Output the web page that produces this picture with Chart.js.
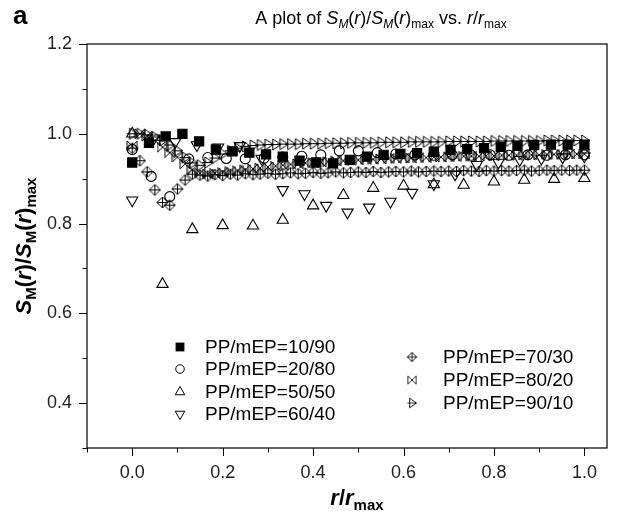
<!DOCTYPE html>
<html><head><meta charset="utf-8">
<script src="https://cdn.jsdelivr.net/npm/chart.js@4/dist/chart.umd.min.js"></script>
<style>html,body{margin:0;padding:0;background:#fff}#wrap{width:637px;height:520px;position:relative}</style>
</head><body><div id="wrap"><canvas id="c" width="637" height="520"></canvas></div>
<script>
// ---- data ----
const seriesLabels = ["PP/mEP=10/90","PP/mEP=20/80","PP/mEP=50/50","PP/mEP=60/40","PP/mEP=70/30","PP/mEP=80/20","PP/mEP=90/10"];
const x27 = [0,0.037,0.074,0.111,0.148,0.185,0.222,0.259,0.296,0.333,0.37,0.407,0.444,0.481,0.519,0.556,0.593,0.63,0.667,0.704,0.741,0.778,0.815,0.852,0.889,0.926,0.963,1.0];
const x24 = [0,0.042,0.083,0.125,0.167,0.208,0.25,0.292,0.333,0.375,0.417,0.458,0.5,0.542,0.583,0.625,0.667,0.708,0.75,0.792,0.833,0.875,0.917,0.958,1.0];
const x15 = [0,0.067,0.133,0.2,0.267,0.333,0.4,0.467,0.533,0.6,0.667,0.733,0.8,0.867,0.933,1.0];
const x21 = [0,0.048,0.095,0.143,0.19,0.238,0.286,0.333,0.381,0.429,0.476,0.524,0.571,0.619,0.667,0.714,0.762,0.81,0.857,0.905,0.952,1.0];
const xFine = [0,0.017,0.033,0.05,0.067,0.083,0.1,0.117,0.133,0.15,0.167,0.183,0.2,0.217,0.233,0.25,0.267,0.283,0.3,0.317,0.333,0.35,0.367,0.383,0.4,0.417,0.433,0.45,0.467,0.483,0.5,0.517,0.533,0.55,0.567,0.583,0.6,0.617,0.633,0.65,0.667,0.683,0.7,0.717,0.733,0.75,0.767,0.783,0.8,0.817,0.833,0.85,0.867,0.883,0.9,0.917,0.933,0.95,0.967,0.983,1.0];

const y1090 = [0.936,0.98,0.994,1.0,0.983,0.965,0.961,0.958,0.954,0.949,0.94,0.936,0.934,0.942,0.949,0.953,0.955,0.957,0.96,0.964,0.966,0.968,0.971,0.973,0.975,0.976,0.976,0.976];
const y2080 = [0.965,0.905,0.86,0.944,0.947,0.945,0.944,0.946,0.948,0.95,0.953,0.962,0.962,0.958,0.955,0.953,0.952,0.953,0.952,0.953,0.952,0.953,0.952,0.953,0.953];
const y5050 = [1.0,0.665,0.787,0.796,0.795,0.808,0.84,0.863,0.879,0.884,0.887,0.886,0.893,0.897,0.899,0.901];
const y6040 = [0.852,0.99,0.982,0.975,0.97,0.973,0.945,0.875,0.866,0.84,0.825,0.836,0.849,0.869,0.888,0.91,0.931,0.936,0.942,0.945,0.948,0.95];
const y7030 = [0.968,0.94,0.915,0.875,0.847,0.841,0.877,0.897,0.91,0.908,0.906,0.909,0.907,0.91,0.908,0.911,0.909,0.91,0.912,0.91,0.911,0.913,0.911,0.912,0.914,0.912,0.913,0.915,0.913,0.914,0.915,0.914,0.916,0.914,0.915,0.916,0.915,0.917,0.915,0.916,0.917,0.916,0.917,0.916,0.918,0.917,0.916,0.918,0.917,0.918,0.917,0.918,0.919,0.917,0.918,0.919,0.918,0.919,0.918,0.919,0.919];
const y8020 = [0.973,1.0,0.995,0.985,0.97,0.958,0.948,0.933,0.92,0.912,0.91,0.912,0.914,0.916,0.918,0.92,0.922,0.924,0.926,0.928,0.93,0.932,0.933,0.935,0.936,0.937,0.938,0.94,0.94,0.941,0.942,0.943,0.943,0.944,0.945,0.945,0.946,0.946,0.947,0.947,0.948,0.948,0.949,0.949,0.95,0.95,0.95,0.951,0.951,0.952,0.952,0.952,0.953,0.953,0.953,0.954,0.954,0.954,0.955,0.955,0.955];
const y9010 = [1.0,1.0,0.998,0.993,0.985,0.975,0.962,0.947,0.935,0.93,0.936,0.946,0.955,0.962,0.968,0.972,0.974,0.975,0.976,0.976,0.977,0.977,0.977,0.978,0.978,0.978,0.979,0.979,0.979,0.98,0.98,0.98,0.98,0.981,0.981,0.981,0.981,0.982,0.982,0.982,0.982,0.982,0.983,0.983,0.983,0.983,0.983,0.983,0.984,0.984,0.984,0.984,0.984,0.984,0.984,0.985,0.985,0.985,0.985,0.985,0.985];
const xTickVals = [-0.1,0.0,0.1,0.2,0.3,0.4,0.5,0.6,0.7,0.8,0.9,1.0];
const yTickVals = [0.3,0.4,0.5,0.6,0.7,0.8,0.9,1.0,1.1,1.2];
const xTicksMajor = [0.0,0.2,0.4,0.6,0.8,1.0];
const yTicksMajor = [0.4,0.6,0.8,1.0,1.2];

// ---- marker images ----
function mk(size, draw){const c=document.createElement('canvas');c.width=size;c.height=size;const g=c.getContext('2d');g.strokeStyle='#000';g.lineWidth=1;draw(g,size/2,size/2-1);return c;}
const mDiamondPlus = mk(13,(g,c,r)=>{g.beginPath();g.moveTo(c,c-r);g.lineTo(c+r,c);g.lineTo(c,c+r);g.lineTo(c-r,c);g.closePath();g.moveTo(c,c-r);g.lineTo(c,c+r);g.moveTo(c-r,c);g.lineTo(c+r,c);g.stroke();});
const mBowtie = mk(12,(g,c,r)=>{g.beginPath();g.moveTo(c-r,c-r);g.lineTo(c+r,c+r);g.moveTo(c-r,c+r);g.lineTo(c+r,c-r);g.moveTo(c-r,c-r);g.lineTo(c-r,c+r);g.moveTo(c+r,c-r);g.lineTo(c+r,c+r);g.stroke();});
const mRightTri = mk(13,(g,c,r)=>{g.beginPath();g.moveTo(c-r*0.5,c-r);g.lineTo(c+r,c);g.lineTo(c-r*0.5,c+r);g.closePath();g.moveTo(c-r,c);g.lineTo(c+r,c);g.stroke();});

const styles = [
 {ps:'rect',r:6.5,fill:'#000',rot:0},
 {ps:'circle',r:5,fill:'rgba(0,0,0,0)',rot:0},
 {ps:'triangle',r:6.5,fill:'rgba(0,0,0,0)',rot:0},
 {ps:'triangle',r:6.5,fill:'rgba(0,0,0,0)',rot:180},
 {ps:mDiamondPlus,r:6,fill:'rgba(0,0,0,0)',rot:0},
 {ps:mBowtie,r:6,fill:'rgba(0,0,0,0)',rot:0},
 {ps:mRightTri,r:6,fill:'rgba(0,0,0,0)',rot:0}
];
const xs=[x27,x24,x15,x21,xFine,xFine,xFine];
const ys=[y1090,y2080,y5050,y6040,y7030,y8020,y9010];

const datasets = seriesLabels.map((lab,i)=>({
  label: lab,
  data: xs[i].map((x,k)=>({x:x,y:ys[i][k]})),
  showLine:false,
  pointStyle: styles[i].ps,
  pointRadius: styles[i].r,
  pointRotation: styles[i].rot,
  pointBorderWidth: 1.1,
  pointBorderColor: '#000',
  pointBackgroundColor: styles[i].fill,
  pointHoverRadius: styles[i].r
}));

const FONT = '"Liberation Sans", Arial, sans-serif';

function drawRich(ctx, runs, x, y, align){
  let w=0;
  runs.forEach(r=>{ctx.font=`${r[1]} ${r[2]} ${r[3]}px ${FONT}`;w+=ctx.measureText(r[0]).width;});
  let cx = align==='center'? x-w/2 : x;
  ctx.textBaseline='alphabetic'; ctx.textAlign='left';
  runs.forEach(r=>{ctx.font=`${r[1]} ${r[2]} ${r[3]}px ${FONT}`;ctx.fillText(r[0],cx,y+(r[4]||0));cx+=ctx.measureText(r[0]).width;});
}

function drawMarker(ctx, st, x, y, scale){
  ctx.save();
  ctx.strokeStyle='#000'; ctx.lineWidth=1; ctx.fillStyle=st.fill;
  const r=st.r*scale;
  if (typeof st.ps !== 'string'){
    const w=st.ps.width*scale;
    ctx.drawImage(st.ps, x-w/2, y-w/2, w, w);
  } else if (st.ps==='rect'){
    const s=r*Math.SQRT1_2; ctx.fillRect(x-s,y-s,2*s,2*s); ctx.strokeRect(x-s,y-s,2*s,2*s);
  } else if (st.ps==='circle'){
    ctx.beginPath(); ctx.arc(x,y,r,0,Math.PI*2); ctx.stroke();
  } else if (st.ps==='triangle'){
    const sgn = st.rot===180?-1:1;
    ctx.beginPath();
    ctx.moveTo(x, y - sgn*r);
    ctx.lineTo(x + r*Math.sin(Math.PI*2/3), y + sgn*r*0.5);
    ctx.lineTo(x - r*Math.sin(Math.PI*2/3), y + sgn*r*0.5);
    ctx.closePath(); ctx.stroke();
  }
  ctx.restore();
}

const decor = {
  id:'decor',
  afterDraw(chart){
    const ctx=chart.ctx, a=chart.chartArea, xs=chart.scales.x, ys=chart.scales.y;
    ctx.save();
    ctx.strokeStyle='#000'; ctx.lineWidth=1.2;
    ctx.strokeRect(a.left, a.top, a.right-a.left, a.bottom-a.top);
    ctx.lineWidth=1;
    ys.ticks.forEach(t=>{
      const v=t.value; const major = yTicksMajor.some(m=>Math.abs(m-v)<1e-6);
      const py=Math.round(ys.getPixelForValue(v))+0.5;
      ctx.beginPath(); ctx.moveTo(a.left,py); ctx.lineTo(a.left-(major?8:4.5),py); ctx.stroke();
    });
    xs.ticks.forEach(t=>{
      const v=t.value;
      const major = xTicksMajor.some(m=>Math.abs(m-v)<1e-6);
      const px=Math.round(xs.getPixelForValue(v))+0.5;
      ctx.beginPath(); ctx.moveTo(px,a.bottom); ctx.lineTo(px,a.bottom+(major?8:4.5)); ctx.stroke();
    });
    ctx.fillStyle='#000';
    ctx.font=`bold 26px ${FONT}`; ctx.textBaseline='alphabetic'; ctx.textAlign='left';
    ctx.fillText('a', 13, 24);
    // title
    drawRich(ctx, [["A plot of ",'normal','normal',18],["S",'italic','normal',18],["M",'italic','normal',12,4],["(",'normal','normal',18],["r",'italic','normal',18],[")/",'normal','normal',18],["S",'italic','normal',18],["M",'italic','normal',12,4],["(",'normal','normal',18],["r",'italic','normal',18],[")",'normal','normal',18],["max",'normal','normal',12,4],[" vs. ",'normal','normal',18],["r",'italic','normal',18],["/",'normal','normal',18],["r",'italic','normal',18],["max",'normal','normal',12,4]], 381, 24, 'center');
    // x title
    drawRich(ctx, [["r",'italic','bold',22],["/",'normal','bold',22],["r",'italic','bold',22],["max",'normal','bold',15,5]], 357, 505, 'center');
    // y title
    ctx.save(); ctx.translate(31,(a.top+a.bottom)/2); ctx.rotate(-Math.PI/2);
    drawRich(ctx, [["S",'italic','bold',22],["M",'normal','bold',15,5],["(",'normal','bold',22],["r",'italic','bold',22],[")/",'normal','bold',22],["S",'italic','bold',22],["M",'normal','bold',15,5],["(",'normal','bold',22],["r",'italic','bold',22],[")",'normal','bold',22],["max",'normal','bold',15,5]], 0, 0, 'center');
    ctx.restore();
    // legend
    const col1=[[180,347],[180,369],[180,392],[180,414]];
    const col2=[[412,357],[412,380],[412,403]];
    const pos=col1.concat(col2);
    ctx.font=`19px ${FONT}`; ctx.textBaseline='middle'; ctx.textAlign='left'; ctx.fillStyle='#000';
    seriesLabels.forEach((lab,i)=>{
      const [px,py]=pos[i];
      drawMarker(ctx, styles[i], px, py, 0.85);
      ctx.fillText(lab, px + (i<4?25:31), py+1);
    });
    ctx.restore();
  }
};

new Chart(document.getElementById('c'), {
  type:'scatter',
  data:{datasets},
  options:{
    responsive:false, animation:false, devicePixelRatio:1,
    layout:{padding:{left:0,top:44,right:30,bottom:0}},
    plugins:{legend:{display:false}, tooltip:{enabled:false}, title:{display:false}},
    scales:{
      x:{type:'linear', min:-0.1, max:1.05,
         grid:{display:false, drawTicks:false}, border:{display:false},
         afterBuildTicks:(s)=>{s.ticks=xTickVals.map(v=>({value:v}));},
         ticks:{autoSkip:false, maxRotation:0, padding:14, color:'#222', font:{family:FONT,size:18},
           callback:(v)=>xTicksMajor.some(m=>Math.abs(m-v)<1e-6)? Math.abs(v).toFixed(1):''},
         afterFit:(s)=>{s.height=72;}},
      y:{type:'linear', min:0.3, max:1.2,
         grid:{display:false, drawTicks:false}, border:{display:false},
         afterBuildTicks:(s)=>{s.ticks=yTickVals.map(v=>({value:v}));},
         ticks:{autoSkip:false, padding:15, color:'#222', font:{family:FONT,size:18},
           callback:(v)=>yTicksMajor.some(m=>Math.abs(m-v)<1e-6)? v.toFixed(1):''},
         afterFit:(s)=>{s.width=87;}}
    }
  },
  plugins:[decor]
});
</script>
</body></html>
